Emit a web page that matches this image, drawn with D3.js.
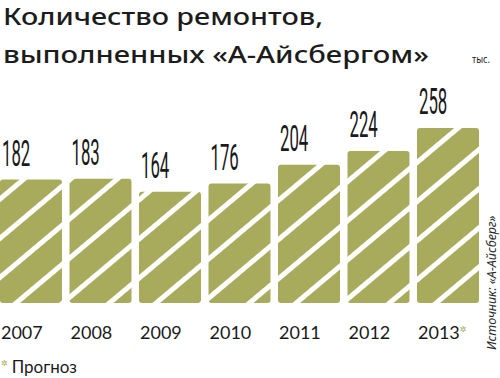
<!DOCTYPE html>
<html>
<head>
<meta charset="utf-8">
<script src="https://cdn.jsdelivr.net/npm/d3@7"></script>
<style>
  body { margin: 0; background: #fff; }
  svg { display: block; }
</style>
</head>
<body>
<div id="chart"></div>
<script>
// Chart Data
const years = ["2007", "2008", "2009", "2010", "2011", "2012", "2013"];
const repairs = [182, 183, 164, 176, 204, 224, 258];
const forecastYears = ["2013"];

// Dimensions
let w = 500, h = 378;
let svg = d3.select("#chart").append("svg").attr("width", w).attr("height", h);

// Stripe Pattern For Bars
let pat = svg.append("defs").append("pattern")
  .attr("id", "stripes").attr("patternUnits", "userSpaceOnUse")
  .attr("width", 30).attr("height", 30)
  .attr("patternTransform", "rotate(-40)");
pat.append("rect").attr("width", 30).attr("height", 30).attr("fill", "#a8ab5c");
pat.append("rect").attr("x", 0).attr("y", 0).attr("width", 30).attr("height", 5).attr("fill", "#fff");

// Scales
let xScale = d3.scaleBand().domain(years).range([0, 479]).paddingInner(0.108).paddingOuter(0);
let yScale = d3.scaleLinear().domain([0, 258]).range([303, 128]);

// Title
let titleFont = "Noto Sans";
svg.append("text").attr("x", 3).attr("y", 25).text("Количество ремонтов,")
  .attr("textLength", 320).attr("lengthAdjust", "spacingAndGlyphs")
  .attr("font-family", titleFont).attr("font-weight", 500).attr("font-size", 23).attr("fill", "#1c1c1c");
svg.append("text").attr("x", 3).attr("y", 63).text("выполненных «А-Айсбергом»")
  .attr("textLength", 426).attr("lengthAdjust", "spacingAndGlyphs")
  .attr("font-family", titleFont).attr("font-weight", 500).attr("font-size", 23).attr("fill", "#1c1c1c");
svg.append("text").attr("x", 472).attr("y", 63).text("тыс.")
  .attr("textLength", 18).attr("lengthAdjust", "spacingAndGlyphs")
  .attr("font-family", titleFont).attr("font-size", 11).attr("fill", "#1c1c1c");

// Bars
svg.selectAll("rect.bar").data(repairs).enter().append("rect").attr("class", "bar")
  .attr("x", (d, i) => xScale(years[i]))
  .attr("y", d => yScale(d))
  .attr("width", xScale.bandwidth())
  .attr("height", d => yScale(0) - yScale(d))
  .attr("rx", 3).attr("ry", 3)
  .attr("fill", "url(#stripes)");

// Value Labels (tall condensed digits)
svg.selectAll("text.val").data(repairs).enter().append("text").attr("class", "val")
  .attr("transform", (d, i) => "translate(" + (xScale(years[i]) + 2) + "," + (yScale(d) - 14) + ") scale(0.46,1)")
  .text(d => d)
  .attr("font-family", "Roboto").attr("font-size", 36.5).attr("fill", "#1a1a1a");

// Year Labels
let yl = svg.selectAll("text.year").data(years).enter().append("text").attr("class", "year")
  .attr("x", d => xScale(d) + 1)
  .attr("y", 339)
  .attr("font-family", "Lato").attr("font-size", 18).attr("fill", "#1a1a1a");
yl.append("tspan").text(d => d);
yl.filter(d => forecastYears.includes(d)).append("tspan").text("✲")
  .attr("font-family", "DejaVu Sans").attr("font-size", 8).attr("dy", -7).attr("fill", "#a8ab5c");

// Footnote
let fn = svg.append("text").attr("x", 1).attr("y", 373).attr("font-family", "Lato").attr("font-size", 17).attr("fill", "#1a1a1a");
fn.append("tspan").text("✲").attr("font-family", "DejaVu Sans").attr("font-size", 8).attr("fill", "#a8ab5c").attr("dy", -7);
fn.append("tspan").text("Прогноз").attr("dx", 4).attr("dy", 7);

// Source (vertical)
svg.append("text").attr("transform", "translate(496, 350) rotate(-90)")
  .text("Источник: «А-Айсберг»")
  .attr("font-family", "Noto Sans").attr("font-style", "italic").attr("font-size", 12.5).attr("fill", "#2a2a2a");
</script>
</body>
</html>
